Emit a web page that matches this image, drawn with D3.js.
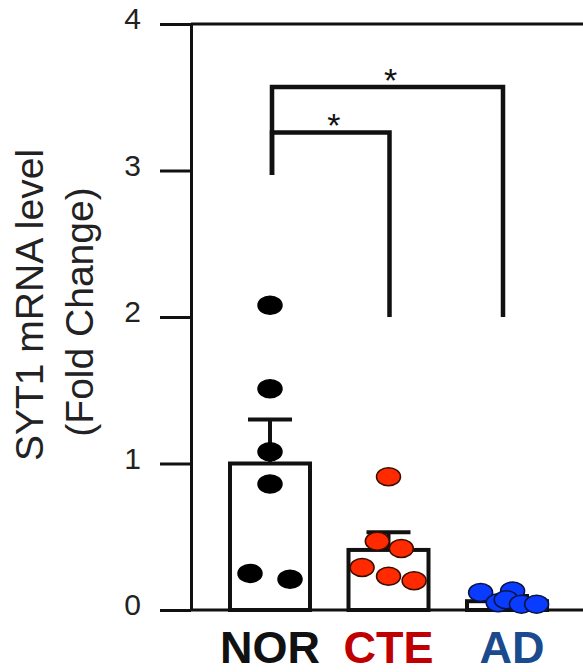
<!DOCTYPE html>
<html>
<head>
<meta charset="utf-8">
<script src="https://cdn.jsdelivr.net/npm/d3@7"></script>
<style>
  body { margin: 0; background: #fff; }
  svg { display: block; font-family: "Liberation Sans", Arial, sans-serif; }
</style>
</head>
<body>
<svg id="chart" width="583" height="672"></svg>
<script>
// group data
const groups = ["NOR", "CTE", "AD"];
const means = [1.0, 0.41, 0.06];
const sems = [0.30, 0.12, 0.035];
const labelColours = ["#111111", "#c00000", "#1b4a8e"];

// individual samples per group (value + jitter as fraction of bar width)
const norValues = [2.08, 1.51, 1.08, 0.86, 0.25, 0.21];
const norJitter = [0, 0, 0, 0, -0.25, 0.25];
const cteValues = [0.91, 0.47, 0.42, 0.29, 0.23, 0.20];
const cteJitter = [0, -0.14, 0.16, -0.33, 0, 0.32];
const adValues = [0.12, 0.13, 0.05, 0.07, 0.04, 0.04];
const adJitter = [-0.33, 0.07, -0.11, -0.01, 0.18, 0.37];

const yTicks = [0, 1, 2, 3, 4];

// significance brackets: from group, to group, bracket level, drop level on right
const sigPairs = [
  { from: "NOR", to: "CTE", level: 3.26, leftBottom: 2.97, rightBottom: 2.0, label: "*" },
  { from: "NOR", to: "AD", level: 3.57, leftBottom: 2.97, rightBottom: 2.0, label: "*" }
];

const svg = d3.select("#chart");
const width = +svg.attr("width");
const axisX = 191;
const barW = 80;

const y = d3.scaleLinear().domain([0, 4]).range([610, 24]);
const x = d3.scalePoint().domain(groups).range([270, 507]);

const samples = [
  { g: "NOR", vals: norValues, jit: norJitter, fill: "#000", stroke: "#000" },
  { g: "CTE", vals: cteValues, jit: cteJitter, fill: "#ff2a00", stroke: "#3b0d00" },
  { g: "AD", vals: adValues, jit: adJitter, fill: "#0a3cff", stroke: "#0a1440" }
];

// y axis
const yAxis = svg.append("g")
  .attr("transform", `translate(${axisX},0)`)
  .call(d3.axisLeft(y).tickValues(yTicks).tickFormat(d3.format("d"))
    .tickSize(31).tickSizeOuter(0).tickPadding(19));
yAxis.select(".domain").attr("stroke", "#111").attr("stroke-width", 3);
yAxis.selectAll(".tick line").attr("stroke", "#111").attr("stroke-width", 3);
yAxis.selectAll(".tick text")
  .attr("font-size", 30)
  .attr("fill", "#222")
  .attr("dy", "0.15em");

// top and bottom frame lines
svg.append("g").selectAll("line").data([0, 4]).join("line")
  .attr("x1", axisX).attr("x2", width)
  .attr("y1", d => y(d)).attr("y2", d => y(d))
  .attr("stroke", "#111").attr("stroke-width", 3);

// y label
const yLabel = svg.append("g").attr("fill", "#222").attr("font-size", 39)
  .attr("text-anchor", "middle");
yLabel.append("text")
  .attr("transform", "translate(43,305) rotate(-90)")
  .text("SYT1 mRNA level");
yLabel.append("text")
  .attr("transform", "translate(93,312) rotate(-90)")
  .text("(Fold Change)");

// bars
svg.append("g").selectAll("rect").data(groups).join("rect")
  .attr("x", d => x(d) - barW / 2)
  .attr("width", barW)
  .attr("y", (d, i) => y(means[i]))
  .attr("height", (d, i) => y(0) - y(means[i]))
  .attr("fill", "#fff")
  .attr("stroke", "#111")
  .attr("stroke-width", 4);

// error bars
const err = svg.append("g").attr("stroke", "#111").attr("stroke-width", 4);
err.selectAll(".stem").data(groups).join("line")
  .attr("class", "stem")
  .attr("x1", d => x(d)).attr("x2", d => x(d))
  .attr("y1", (d, i) => y(means[i])).attr("y2", (d, i) => y(means[i] + sems[i]));
err.selectAll(".cap").data(groups).join("line")
  .attr("class", "cap")
  .attr("x1", d => x(d) - 22).attr("x2", d => x(d) + 22)
  .attr("y1", (d, i) => y(means[i] + sems[i])).attr("y2", (d, i) => y(means[i] + sems[i]));

// dots
samples.forEach(s => {
  svg.append("g").selectAll("ellipse").data(s.vals).join("ellipse")
    .attr("cx", (d, i) => x(s.g) + s.jit[i] * barW)
    .attr("cy", d => y(d))
    .attr("rx", 12)
    .attr("ry", 9)
    .attr("fill", s.fill)
    .attr("stroke", s.stroke)
    .attr("stroke-width", 1.5);
});

// significance brackets
const sig = svg.append("g");
sigPairs.forEach(p => {
  const x1 = x(p.from) + 2, x2 = x(p.to) + (p.to === "AD" ? -4 : 1);
  sig.append("path")
    .attr("d", `M${x1},${y(p.leftBottom)}V${y(p.level)}H${x2}V${y(p.rightBottom)}`)
    .attr("fill", "none")
    .attr("stroke", "#111")
    .attr("stroke-width", 4.5);
  sig.append("text")
    .attr("x", (x1 + x2) / 2 + 3)
    .attr("y", y(p.level) + 5)
    .attr("text-anchor", "middle")
    .attr("font-size", 34)
    .attr("fill", "#111")
    .text(p.label);
});

// x labels
svg.append("g").selectAll("text").data(groups).join("text")
  .attr("x", d => x(d) + (d === "AD" ? 5 : 0))
  .attr("y", 663)
  .attr("text-anchor", "middle")
  .attr("font-size", 45)
  .attr("font-weight", "bold")
  .attr("fill", (d, i) => labelColours[i])
  .text(d => d);
</script>
</body>
</html>
